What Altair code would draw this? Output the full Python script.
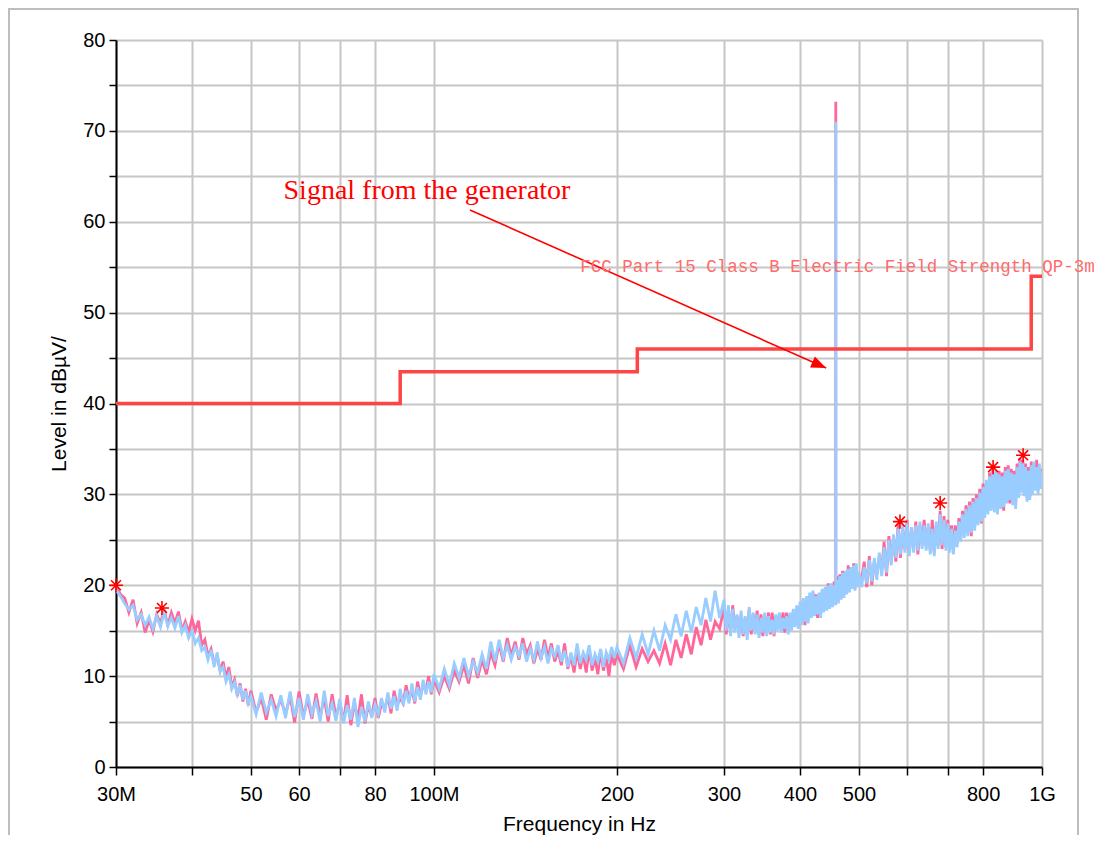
import altair as alt
import pandas as pd

# ---------------- data (MHz, dBuV) ----------------
freq_a = [30, 30.5, 31, 31.5, 32, 32.5, 33, 33.5, 34, 34.5, 35, 35.5, 36, 36.5, 37, 37.5, 38, 38.5, 39, 39.5,
          40, 40.5, 41, 41.5, 42, 42.5, 43, 43.5, 44, 44.5, 45, 45.5, 46, 46.5, 47, 47.5, 48, 48.5, 49, 49.5]
blue_a = [19.5, 18.8, 18.0, 17.3, 17.8, 16.2, 16.8, 15.6, 16.5, 15.2, 16.6, 15.4, 17.0, 15.5, 16.4, 15.3, 16.6, 14.8, 15.6, 14.2,
          15.0, 13.6, 14.2, 12.8, 13.2, 11.8, 12.9, 11.0, 12.6, 10.5, 11.0, 9.4, 10.2, 8.6, 9.3, 8.0, 9.0, 7.4, 8.4, 7.0]
pink_a = [20.0, 19.0, 18.6, 17.0, 18.4, 15.8, 17.0, 14.8, 16.2, 14.9, 16.8, 15.8, 17.3, 15.6, 17.0, 15.8, 17.1, 15.0, 16.0, 14.8,
          16.3, 15.0, 16.1, 13.4, 14.0, 12.2, 13.0, 11.4, 12.2, 10.6, 11.6, 9.8, 11.0, 8.8, 9.6, 7.8, 9.2, 7.2, 8.6, 6.8]

freq_b = [50, 51, 52, 53, 54, 55, 56, 57, 58, 59, 60, 61, 62, 63, 64, 65, 66, 67, 68, 69,
          70, 71, 72, 73, 74, 75, 76, 77, 78, 79, 80, 81, 82, 83, 84, 85, 86, 87, 88, 89,
          90, 91, 92, 93, 94, 95, 96, 97, 98, 99]
blue_b = [7.8, 5.8, 8.2, 6.0, 7.4, 5.6, 7.9, 5.4, 8.3, 5.5, 7.6, 5.2, 8.0, 5.8, 7.2, 5.0, 8.4, 5.6, 7.0, 5.1,
          7.5, 4.8, 6.8, 5.2, 7.6, 4.4, 6.6, 5.0, 7.2, 5.4, 6.9, 5.8, 7.6, 6.0, 8.2, 6.4, 7.8, 6.2, 8.6, 6.8,
          8.4, 7.0, 9.2, 7.2, 8.8, 7.4, 9.6, 8.0, 9.4, 8.2]
pink_b = [8.4, 6.0, 7.6, 5.2, 8.0, 6.2, 7.4, 5.8, 7.8, 4.9, 8.3, 5.6, 7.4, 5.3, 8.1, 5.5, 7.6, 5.0, 8.0, 5.5,
          7.1, 5.0, 7.9, 4.6, 7.0, 5.3, 8.0, 4.8, 6.8, 5.6, 7.6, 5.4, 7.0, 6.4, 7.8, 5.9, 8.4, 6.8, 7.6, 7.0,
          9.0, 7.4, 8.6, 7.0, 9.4, 7.8, 9.0, 8.4, 10.0, 8.0]

freq_c = [100, 102, 104, 106, 108, 110, 112, 114, 116, 118, 120, 122, 124, 126, 128, 130, 132, 134, 136, 138,
          140, 142, 144, 146, 148, 150, 152, 154, 156, 158, 160, 162, 164, 166, 168, 170, 172, 174, 176, 178,
          180, 182, 184, 186, 188, 190, 192, 194, 196, 198]
blue_c = [10.2, 8.6, 10.8, 9.0, 11.4, 9.8, 12.0, 10.0, 11.6, 10.4, 12.4, 10.8, 13.8, 11.6, 14.0, 12.0, 13.4, 11.8, 13.2, 12.2,
          13.6, 11.6, 13.0, 11.8, 13.8, 12.0, 13.2, 11.4, 13.0, 12.2, 13.4, 11.6, 12.8, 11.0, 12.6, 11.2, 13.6, 11.4, 12.6, 11.8,
          13.4, 11.2, 12.4, 11.6, 13.0, 11.0, 12.6, 11.8, 13.2, 12.0]
pink_c = [9.6, 8.2, 10.0, 8.6, 10.6, 9.4, 11.2, 9.2, 12.0, 9.8, 11.8, 10.2, 12.6, 11.2, 13.6, 11.6, 14.2, 12.2, 13.8, 11.8,
          14.2, 12.4, 13.4, 11.4, 13.0, 11.8, 14.0, 12.0, 13.6, 11.6, 12.8, 11.2, 13.6, 10.8, 12.2, 10.4, 12.8, 10.8, 12.4, 10.4,
          13.0, 10.6, 12.0, 10.2, 12.8, 10.6, 12.2, 10.0, 12.6, 11.2]

freq_d = [200, 205, 210, 215, 220, 225, 230, 235, 240, 245, 250, 255, 260, 265, 270, 275, 280, 285, 290, 295]
blue_d = [13.2, 11.4, 14.2, 12.0, 14.6, 12.4, 15.0, 12.8, 15.6, 14.0, 16.8, 14.4, 17.2, 14.8, 17.6, 15.6, 18.6, 16.0, 19.4, 16.4]
pink_d = [12.4, 10.8, 13.4, 11.0, 13.0, 11.6, 12.8, 11.4, 13.6, 11.2, 14.0, 12.0, 14.6, 12.4, 15.4, 13.4, 16.2, 14.0, 16.0, 15.2]

freq_e = [300, 302.5, 305, 307.5, 310, 312.5, 315, 317.5, 320, 322.5,
          325, 327.5, 330, 332.5, 335, 337.5, 340, 342.5, 345, 347.5,
          350, 352.5, 355, 357.5, 360, 362.5, 365, 367.5, 370, 372.5,
          375, 377.5, 380, 382.5, 385, 387.5, 390, 392.5, 395, 397.5,
          400, 402.5, 405, 407.5, 410, 412.5, 415, 417.5, 420, 422.5,
          425, 427.5, 430, 432.5, 435, 437.5, 440, 442.5, 445, 447.5,
          450, 452.5, 455, 457.9, 458, 458.1, 460, 462.5, 465, 467.5, 470,
          472.5, 475, 477.5, 480, 482.5, 485, 487.5, 490, 492.5, 495, 497.5]
blue_e = [18.4, 15.0, 17.8, 14.4, 17.4, 14.8, 16.8, 14.2, 17.2, 14.6,
          16.6, 14.0, 17.6, 15.0, 17.0, 14.6, 16.8, 14.2, 16.4, 14.8,
          17.0, 14.4, 16.6, 14.8, 16.2, 14.6, 16.8, 15.0, 17.0, 14.8,
          16.4, 15.2, 16.6, 14.6, 17.0, 15.0, 17.4, 15.4, 17.8, 15.2,
          18.2, 15.6, 18.6, 16.0, 18.8, 15.8, 19.2, 16.4, 19.4, 16.6,
          18.8, 16.8, 19.2, 16.4, 19.6, 17.0, 19.8, 17.2, 20.0, 17.4,
          20.2, 17.6, 20.0, 17.8, 71.0, 18.6, 20.6, 18.0, 21.0, 18.4, 21.4,
          18.6, 21.6, 19.0, 21.8, 19.2, 22.0, 19.6, 22.2, 19.4, 22.4, 19.8]
pink_e = [17.6, 14.6, 17.2, 14.8, 17.8, 15.2, 16.6, 14.8, 16.8, 14.4,
          16.4, 14.8, 17.4, 14.6, 16.8, 15.0, 17.2, 14.6, 16.8, 14.4,
          16.6, 15.0, 17.0, 14.6, 17.0, 14.4, 16.6, 15.2, 16.8, 15.4,
          17.0, 14.8, 17.0, 15.0, 16.8, 15.6, 17.2, 15.8, 17.6, 15.6,
          17.8, 16.0, 18.4, 15.6, 18.6, 16.2, 18.8, 16.6, 19.2, 16.8,
          19.0, 16.4, 18.8, 16.8, 19.4, 17.4, 19.6, 17.6, 20.2, 17.8,
          20.0, 18.0, 20.4, 18.2, 73.2, 19.0, 21.0, 18.4, 21.2, 18.6, 21.6,
          19.0, 21.4, 19.2, 22.2, 19.4, 22.0, 19.8, 22.4, 19.6, 22.0, 20.2]

freq_f = [500, 505, 510, 515, 520, 525, 530, 535, 540, 545,
          550, 555, 560, 565, 570, 575, 580, 585, 590, 595,
          600, 605, 610, 615, 620, 625, 630, 635, 640, 645,
          650, 655, 660, 665, 670, 675, 680, 685, 690, 695,
          700, 705, 710, 715, 720, 725, 730, 735, 740, 745,
          750, 755, 760, 765, 770, 775, 780, 785, 790, 795,
          800, 805, 810, 815, 820, 825, 830, 835, 840, 845,
          850, 855, 860, 865, 870, 875, 880, 885, 890, 895,
          900, 905, 910, 915, 920, 925, 930, 935, 940, 945,
          950, 955, 960, 965, 970, 975, 980, 985, 990, 995, 1000]
blue_f = [21.4, 19.8, 22.0, 20.2, 22.8, 20.4, 23.0, 20.6, 23.6, 21.0,
          24.2, 21.4, 25.0, 22.2, 25.6, 23.0, 26.2, 23.4, 26.6, 23.6,
          26.8, 23.2, 26.4, 23.6, 26.6, 23.8, 27.0, 24.0, 26.6, 23.8,
          26.8, 23.4, 26.2, 23.2, 27.0, 24.0, 27.8, 24.4, 27.2, 23.8,
          26.8, 23.6, 26.2, 23.4, 26.0, 24.2, 27.0, 24.8, 27.8, 25.2,
          28.4, 25.4, 28.8, 25.8, 29.2, 26.0, 29.6, 26.6, 30.2, 27.0,
          30.8, 27.4, 31.6, 27.8, 32.0, 28.2, 32.4, 28.0, 32.6, 27.8,
          32.2, 28.4, 32.0, 28.6, 32.6, 29.0, 32.8, 29.4, 32.4, 28.8,
          32.2, 28.4, 33.0, 29.6, 33.6, 30.2, 33.4, 29.8, 33.0, 29.2,
          32.6, 29.4, 33.2, 30.0, 33.6, 30.4, 33.0, 30.0, 33.4, 30.6, 32.6]
pink_f = [20.8, 20.6, 22.6, 19.8, 23.2, 20.0, 22.6, 21.2, 23.2, 21.6,
          24.8, 21.0, 25.4, 22.6, 25.2, 22.6, 26.8, 23.0, 26.2, 24.0,
          27.2, 23.6, 26.0, 24.0, 27.0, 23.4, 26.6, 24.4, 27.2, 24.2,
          26.4, 23.8, 27.2, 23.6, 26.6, 24.4, 28.2, 24.0, 27.6, 24.2,
          27.2, 24.0, 26.6, 23.8, 26.6, 24.6, 27.4, 25.2, 28.2, 25.6,
          28.8, 25.8, 29.2, 25.4, 29.6, 26.4, 30.0, 27.0, 30.6, 26.8,
          31.2, 27.8, 31.2, 28.2, 32.4, 28.6, 32.8, 28.4, 32.2, 28.2,
          32.6, 28.8, 32.4, 28.2, 33.0, 29.4, 33.2, 29.0, 32.8, 29.2,
          32.6, 28.8, 33.4, 30.0, 34.0, 30.6, 33.8, 30.2, 33.4, 29.6,
          33.0, 29.8, 33.6, 30.4, 33.2, 30.8, 33.8, 30.4, 33.0, 31.0, 32.8]

freqs = freq_a + freq_b + freq_c + freq_d + freq_e + freq_f
blue_vals = blue_a + blue_b + blue_c + blue_d + blue_e + blue_f
pink_vals = pink_a + pink_b + pink_c + pink_d + pink_e + pink_f
assert len(freqs) == len(blue_vals) == len(pink_vals), (len(freqs), len(blue_vals), len(pink_vals))

# limit line (FCC Part 15 Class B, 3 m)
limit_freq = [30, 88, 88, 216, 216, 960, 960, 1000]
limit_level = [40, 40, 43.5, 43.5, 46, 46, 54, 54]

# peak markers
peak_freq = [30.0, 35.7, 584, 680, 831, 931]
peak_level = [20.0, 17.5, 27.0, 29.05, 33.0, 34.3]

# annotation arrow (start -> end)
arrow_freq = [114.6, 441.6]
arrow_level = [61.3, 43.9]

x_tick_values = [30, 40, 50, 60, 70, 80, 100, 200, 300, 400, 500, 600, 700, 800, 1000]
x_tick_labels = ["30M", "", "50", "60", "", "80", "100M", "200", "300", "400", "500", "", "", "800", "1G"]
y_tick_values = [0, 5, 10, 15, 20, 25, 30, 35, 40, 45, 50, 55, 60, 65, 70, 75, 80]
y_tick_labels = ["0", "", "10", "", "20", "", "30", "", "40", "", "50", "", "60", "", "70", "", "80"]


def label_expr(values, labels):
    expr = "''"
    for v, lab in reversed(list(zip(values, labels))):
        expr = f"datum.value == {v} ? '{lab}' : ({expr})"
    return expr


FONT = "Liberation Sans"

x_scale = alt.Scale(type="log", domain=[30, 1000], nice=False)
y_scale = alt.Scale(domain=[0, 80], nice=False)

x_axis = alt.Axis(
    values=x_tick_values, labelExpr=label_expr(x_tick_values, x_tick_labels),
    title="Frequency in Hz", grid=True, gridColor="#C6C6C6", gridWidth=2,
    domainColor="black", domainWidth=2, tickColor="black", tickWidth=1.5, tickSize=8,
    labelFont=FONT, labelFontSize=20, labelColor="black", labelPadding=9,
    labelFlush=False, labelOverlap=False,
    titleFont=FONT, titleFontSize=21, titleFontWeight="normal", titleColor="black", titlePadding=9,
)
y_axis = alt.Axis(
    values=y_tick_values, labelExpr=label_expr(y_tick_values, y_tick_labels),
    title="Level in dBµV/", grid=True, gridColor="#C6C6C6", gridWidth=2,
    domainColor="black", domainWidth=2, tickColor="black", tickWidth=1.5, tickSize=7,
    labelFont=FONT, labelFontSize=20, labelColor="black", labelPadding=4,
    labelFlush=False, labelOverlap=False,
    titleFont=FONT, titleFontSize=21, titleFontWeight="normal", titleColor="black", titlePadding=13,
)

trace_df = pd.DataFrame({"f": freqs, "blue": blue_vals, "pink": pink_vals})

pink_line = alt.Chart(trace_df).mark_line(color="#FF6699", strokeWidth=2.8, clip=True).encode(
    x=alt.X("f:Q", scale=x_scale, axis=x_axis), y=alt.Y("pink:Q", scale=y_scale, axis=y_axis), order="f:Q")
blue_line = alt.Chart(trace_df).mark_line(color="#99CCFF", strokeWidth=2.8, clip=True).encode(
    x=alt.X("f:Q", scale=x_scale), y=alt.Y("blue:Q", scale=y_scale), order="f:Q")

limit_df = pd.DataFrame({"f": limit_freq, "v": limit_level, "i": list(range(len(limit_freq)))})
limit_line = alt.Chart(limit_df).mark_line(color="#FF4444", strokeWidth=3.5).encode(
    x=alt.X("f:Q", scale=x_scale), y=alt.Y("v:Q", scale=y_scale), order="i:Q")

peak_df = pd.DataFrame({"f": peak_freq, "v": peak_level})
ASTERISK = "M -1 0 L 1 0 M 0 -1 L 0 1 M -0.7 -0.7 L 0.7 0.7 M -0.7 0.7 L 0.7 -0.7"
peaks = alt.Chart(peak_df).mark_point(shape=ASTERISK, filled=False, color="#FF0000", strokeWidth=1.6,
                                      size=200, opacity=1).encode(
    x=alt.X("f:Q", scale=x_scale), y=alt.Y("v:Q", scale=y_scale))

arrow_df = pd.DataFrame({"f": [arrow_freq[0]], "v": [arrow_level[0]], "f2": [arrow_freq[1]], "v2": [arrow_level[1]]})
arrow_shaft = alt.Chart(arrow_df).mark_rule(color="#FF0000", strokeWidth=1.6).encode(
    x=alt.X("f:Q", scale=x_scale), y=alt.Y("v:Q", scale=y_scale), x2="f2:Q", y2="v2:Q")
HEAD = "M 0 0 L -2 -0.8 L -2 0.8 Z"
arrow_head = alt.Chart(arrow_df).mark_point(shape=HEAD, filled=True, color="#FF0000", size=225, angle=24,
                                            opacity=1).encode(
    x=alt.X("f2:Q", scale=x_scale), y=alt.Y("v2:Q", scale=y_scale))

signal_df = pd.DataFrame({"f": [97.4], "v": [62.5], "t": ["Signal from the generator"]})
signal_text = alt.Chart(signal_df).mark_text(font="Liberation Serif", fontSize=28, color="#FF0000",
                                             align="center", baseline="alphabetic").encode(
    x=alt.X("f:Q", scale=x_scale), y=alt.Y("v:Q", scale=y_scale), text="t:N")

fcc_df = pd.DataFrame({"f": [174], "v": [54.5], "t": ["FCC Part 15 Class B Electric Field Strength QP-3m"]})
fcc_text = alt.Chart(fcc_df).mark_text(font="Liberation Mono", fontSize=17.5, color="#FF6B6B",
                                       align="left", baseline="alphabetic").encode(
    x=alt.X("f:Q", scale=x_scale), y=alt.Y("v:Q", scale=y_scale), text="t:N")

frame = alt.Chart(pd.DataFrame({"a": [0]})).mark_rect(fillOpacity=0, stroke="#BDBDBD", strokeWidth=2).encode(
    x=alt.value(-107), x2=alt.value(962), y=alt.value(-31), y2=alt.value(830))

chart = alt.layer(
    frame, pink_line, blue_line, limit_line, peaks, arrow_shaft, arrow_head, signal_text, fcc_text
).properties(
    width=926, height=727,
    padding={"left": 108, "top": 32, "right": 65, "bottom": 68},
    autosize=alt.AutoSizeParams(type="none"),
    background="white",
).configure_view(stroke=None)

chart.save("out.html", embed_options={"renderer": "svg", "actions": False})
